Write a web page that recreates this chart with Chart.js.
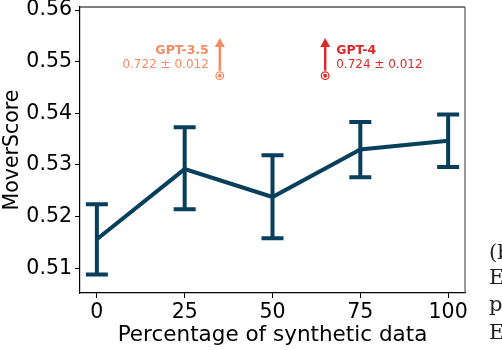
<!DOCTYPE html>
<html><head><meta charset="utf-8">
<script src="https://cdn.jsdelivr.net/npm/chart.js@4/dist/chart.umd.min.js"></script>
<style>
html,body{margin:0;padding:0;background:#fff;overflow:hidden}
#wrap{position:relative;width:502px;height:350px}
.side{position:absolute;left:489px;font-family:"DejaVu Serif","Liberation Serif",serif;font-size:21px;color:#222;line-height:1}
</style></head>
<body><div id="wrap"><canvas id="c" width="502" height="350"></canvas>
<div class="side" style="top:242px">(b</div>
<div class="side" style="top:267px">E</div>
<div class="side" style="top:294px">p</div>
<div class="side" style="top:322px">E</div>
</div>
<script>
const percentages = [0, 25, 50, 75, 100];
const meanScore = [0.5156, 0.5292, 0.5238, 0.5330, 0.5347];
const errLow = [0.5088, 0.5214, 0.5158, 0.5276, 0.5296];
const errHigh = [0.5224, 0.5373, 0.5319, 0.5383, 0.5398];
const yTicks = [0.51, 0.52, 0.53, 0.54, 0.55, 0.56];
const xTicks = [0, 25, 50, 75, 100];
const refNames = ['GPT-3.5', 'GPT-4'];
const refScores = ['0.722 \u00b1 0.012', '0.724 \u00b1 0.012'];
const refX = [35, 65];
const refMarkerY = [0.5473, 0.5473];
const refArrowTopY = [0.5546, 0.5546];
const refColors = ['#f58b63', '#dc2a2a'];
const refAlign = ['right', 'left'];

const lineColor = '#073f5c';

const errorBars = {
  id: 'errorBars',
  afterDatasetsDraw(chart) {
    const {ctx, scales: {x, y}} = chart;
    ctx.save();
    ctx.strokeStyle = lineColor;
    ctx.lineWidth = 4;
    ctx.lineCap = 'butt';
    percentages.forEach((p, i) => {
      const px = x.getPixelForValue(p);
      const y1 = y.getPixelForValue(errLow[i]);
      const y2 = y.getPixelForValue(errHigh[i]);
      ctx.beginPath();
      ctx.moveTo(px, y1); ctx.lineTo(px, y2);
      ctx.moveTo(px - 11, y1); ctx.lineTo(px + 11, y1);
      ctx.moveTo(px - 11, y2); ctx.lineTo(px + 11, y2);
      ctx.stroke();
    });
    ctx.restore();
  }
};

const refs = {
  id: 'refs',
  afterDatasetsDraw(chart) {
    const {ctx, scales: {x, y}} = chart;
    ctx.save();
    refNames.forEach((name, i) => {
      const col = refColors[i];
      const px = x.getPixelForValue(refX[i]);
      const my = y.getPixelForValue(refMarkerY[i]);
      const ty = y.getPixelForValue(refArrowTopY[i]);
      ctx.strokeStyle = col; ctx.fillStyle = col;
      ctx.lineWidth = 2.5;
      ctx.beginPath(); ctx.moveTo(px, my - 5); ctx.lineTo(px, ty + 6); ctx.stroke();
      ctx.beginPath();
      ctx.moveTo(px, ty); ctx.lineTo(px - 5, ty + 9); ctx.lineTo(px + 5, ty + 9); ctx.closePath(); ctx.fill();
      ctx.lineWidth = 1.3;
      ctx.beginPath(); ctx.arc(px, my, 3.8, 0, Math.PI * 2); ctx.stroke();
      ctx.beginPath(); ctx.arc(px, my, 2, 0, Math.PI * 2); ctx.fill();
      const align = refAlign[i];
      const tx = align === 'right' ? px - 11 : px + 11;
      ctx.textAlign = align;
      ctx.textBaseline = 'middle';
      ctx.font = 'bold 12.5px "DejaVu Sans"';
      ctx.fillText(name, tx, ty + 13);
      ctx.font = '12px "DejaVu Sans"';
      ctx.fillText(refScores[i], tx, ty + 27);
    });
    ctx.restore();
  }
};

const frame = {
  id: 'frame',
  afterDraw(chart) {
    const {ctx, chartArea: a} = chart;
    ctx.save();
    ctx.lineWidth = 1.2;
    ctx.strokeStyle = '#000';
    ctx.beginPath(); ctx.moveTo(a.left, a.top); ctx.lineTo(a.right, a.top); ctx.stroke();
    ctx.strokeStyle = '#555';
    ctx.beginPath(); ctx.moveTo(a.right, a.top); ctx.lineTo(a.right, a.bottom); ctx.stroke();
    ctx.restore();
  }
};

new Chart(document.getElementById('c'), {
  type: 'line',
  data: {
    datasets: [{
      data: percentages.map((p, i) => ({x: p, y: meanScore[i]})),
      borderColor: lineColor,
      borderWidth: 4,
      pointRadius: 0,
      fill: false,
      tension: 0
    }]
  },
  options: {
    responsive: false,
    animation: false,
    layout: {padding: {top: 7, right: 37, left: 0, bottom: 0}},
    plugins: {legend: {display: false}, tooltip: {enabled: false}},
    scales: {
      x: {
        type: 'linear', min: -4.8, max: 104.8,
        afterBuildTicks(s) { s.ticks = xTicks.map(v => ({value: v})); },
        afterFit(s) { s.height = 57; s.paddingLeft = 0; s.paddingRight = 0; },
        grid: {drawOnChartArea: false, drawTicks: true, tickLength: 5, color: '#000', lineWidth: 1},
        border: {display: true, color: '#000', width: 1.2},
        ticks: {color: '#000', font: {family: 'DejaVu Sans', size: 20.5}, padding: 2, maxRotation: 0},
        title: {display: true, text: 'Percentage of synthetic data', color: '#000', font: {family: 'DejaVu Sans', size: 21.5}, padding: {top: 0, bottom: 2}}
      },
      y: {
        min: 0.5052, max: 0.5606,
        afterBuildTicks(s) { s.ticks = yTicks.map(v => ({value: v})); },
        afterFit(s) { s.width = 80; s.paddingTop = 0; s.paddingBottom = 0; },
        grid: {drawOnChartArea: false, drawTicks: true, tickLength: 5, color: '#000', lineWidth: 1},
        border: {display: true, color: '#000', width: 1.2},
        ticks: {color: '#000', font: {family: 'DejaVu Sans', size: 20.5}, padding: 3, callback: v => v.toFixed(2)},
        title: {display: true, text: 'MoverScore', color: '#000', font: {family: 'DejaVu Sans', size: 20.5}, padding: {top: 0, bottom: 2}}
      }
    }
  },
  plugins: [errorBars, refs, frame]
});
</script>
</body></html>
